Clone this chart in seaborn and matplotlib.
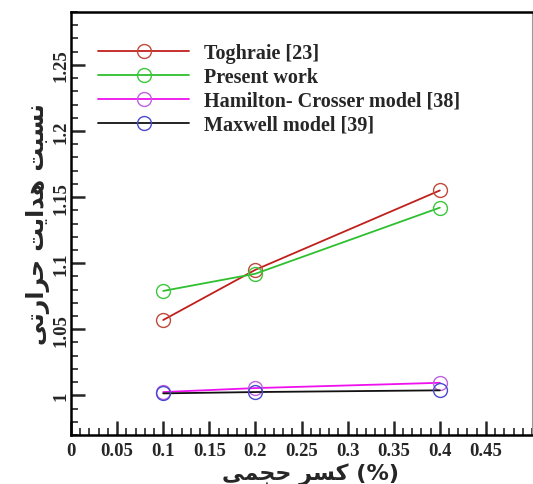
import matplotlib
matplotlib.use("Agg")
import matplotlib.pyplot as plt
import seaborn as sns
from matplotlib.ticker import MultipleLocator, FormatStrFormatter

# volume fraction (%)
fraction = [0.1, 0.2, 0.4]
toghraie = [1.057, 1.095, 1.155]
present = [1.079, 1.092, 1.142]
hamilton = [1.0025, 1.0055, 1.0095]
maxwell = [1.0015, 1.0025, 1.0038]

series_names = ["Toghraie [23]", "Present work", "Hamilton- Crosser model [38]", "Maxwell model [39]"]
xtick_vals = [0, 0.05, 0.1, 0.15, 0.2, 0.25, 0.3, 0.35, 0.4, 0.45]

# Persian labels, pre-shaped (presentation forms) and reversed for LTR drawing
ylab_shaped = "\uFEE7\uFEB4\uFE92\uFE96 \uFEEB\uFEAA\uFE8D\uFEF3\uFE96 \uFEA3\uFEAE\uFE8D\uFEAD\uFE97\uFEF0"
ylab = ylab_shaped[::-1]
xlab = "\uFEF0\uFEE4\uFEA0\uFEA3" + " " + "\uFEAE\uFEB4\uFEDB"

sns.set_style("white")
plt.rcParams["font.family"] = ["Liberation Serif", "DejaVu Sans"]

fig = plt.figure(figsize=(5.33, 4.85), dpi=100)
ax = fig.add_axes([0.1332, 0.101, 0.8650, 0.8722])

styles = [
    ("#c0201c", "#c04a3a"),
    ("#2ec02e", "#3cc83c"),
    ("#ee11ee", "#c060e0"),
    ("#111111", "#4a4ad0"),
]
for name, ys, (lc, mc) in zip(series_names, [toghraie, present, hamilton, maxwell], styles):
    sns.lineplot(x=fraction, y=ys, ax=ax, color=lc, linewidth=1.3, marker="o",
                 markersize=10, markerfacecolor="none", markeredgecolor=mc,
                 markeredgewidth=1.0, label=name)

ax.set_xticks(xtick_vals)
ax.set_xticklabels(["%g" % t for t in xtick_vals], fontweight="bold")
ax.xaxis.set_minor_locator(MultipleLocator(0.01))
ax.yaxis.set_major_locator(MultipleLocator(0.05))
ax.yaxis.set_minor_locator(MultipleLocator(0.01))
ax.yaxis.set_major_formatter(FormatStrFormatter("%g"))
ax.set_xlim(0, 0.5)
ax.set_ylim(0.97, 1.29)
ax.tick_params(which="major", direction="in", length=10, width=1.8, labelsize=13.5)
ax.tick_params(axis="y", which="major", pad=1)
ax.tick_params(axis="x", which="major", pad=5)
ax.tick_params(which="minor", direction="in", length=5, width=1.2)
ax.tick_params(axis="x", which="both", bottom=True, top=False)
ax.tick_params(axis="y", which="both", left=True, right=False)
for lbl in ax.get_xticklabels() + ax.get_yticklabels():
    lbl.set_fontweight("bold")
for lbl in ax.get_yticklabels():
    lbl.set_rotation(90)
    lbl.set_va("center")

for side in ["left", "bottom", "top"]:
    ax.spines[side].set_color("black")
    ax.spines[side].set_linewidth(1.8)
ax.spines["right"].set_color("#999999")
ax.spines["right"].set_linewidth(0.8)

ax.set_ylabel(ylab, family=["DejaVu Sans"], fontweight="bold", fontsize=17, labelpad=2)
ax.set_xlabel(xlab + " (%)", family=["DejaVu Sans"], fontweight="bold", fontsize=16, labelpad=0)
ax.xaxis.set_label_coords(0.52, -0.065)

leg = ax.legend(loc="upper left", bbox_to_anchor=(0.02, 0.97), frameon=False,
                handlelength=4.5, handletextpad=0.75, labelspacing=0.2,
                prop={"family": "Liberation Serif", "weight": "bold", "size": 14.5})

fig.savefig("out.png", dpi=100)
